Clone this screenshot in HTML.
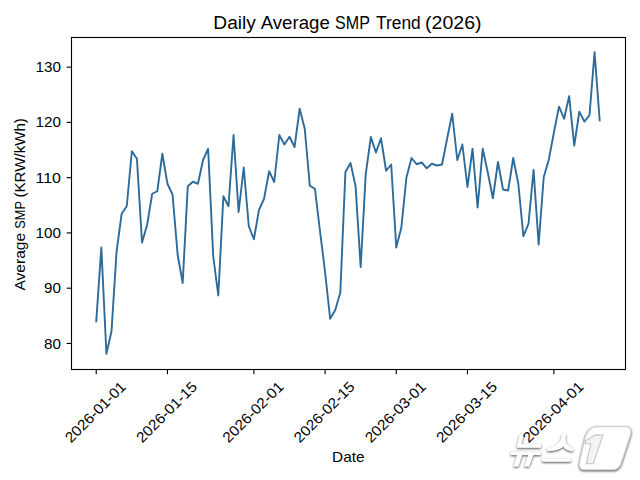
<!DOCTYPE html>
<html><head><meta charset="utf-8">
<style>
html,body{margin:0;padding:0;background:#fff;}
body{width:640px;height:480px;overflow:hidden;position:relative;}
svg{position:absolute;left:0;top:0;}
text{font-family:"Liberation Sans",sans-serif;fill:#000;}
</style></head><body>
<svg width="640" height="480" viewBox="0 0 640 480">
<rect x="0" y="0" width="640" height="480" fill="#fff"/>
<polyline points="96.25,321.25 101.33,247.50 106.42,353.75 111.50,331.25 116.59,251.25 121.67,213.75 126.76,206.25 131.84,151.25 136.93,158.75 142.01,242.50 147.10,225.00 152.19,193.75 157.27,191.25 162.36,153.75 167.44,183.75 172.53,194.50 177.61,254.50 182.69,283.00 187.78,186.25 192.87,181.75 197.95,183.75 203.03,160.00 208.12,148.75 213.20,256.00 218.29,295.50 223.38,196.25 228.46,206.25 233.54,135.00 238.63,212.00 243.72,167.50 248.80,226.25 253.88,239.25 258.97,210.00 264.06,198.75 269.14,171.25 274.23,182.00 279.31,135.00 284.39,144.50 289.48,136.75 294.56,147.00 299.65,108.75 304.74,128.75 309.82,185.75 314.90,188.75 319.99,231.00 325.07,272.00 330.16,318.75 335.25,310.00 340.33,292.50 345.41,172.00 350.50,163.00 355.58,186.25 360.67,267.00 365.75,174.00 370.84,137.00 375.93,152.50 381.01,138.25 386.09,170.75 391.18,164.50 396.26,247.50 401.35,227.50 406.44,177.50 411.52,158.00 416.61,164.25 421.69,162.50 426.77,168.25 431.86,163.75 436.94,165.50 442.03,164.50 447.12,138.75 452.20,113.75 457.29,160.00 462.37,144.50 467.45,187.00 472.54,148.75 477.62,207.50 482.71,148.75 487.80,172.50 492.88,198.25 497.96,162.00 503.05,189.50 508.13,190.50 513.22,158.00 518.31,183.75 523.39,236.25 528.48,223.75 533.56,170.00 538.64,244.50 543.73,177.00 548.82,159.70 553.90,132.50 558.99,106.60 564.07,118.75 569.15,96.25 574.24,145.60 579.33,111.60 584.41,121.60 589.50,115.00 594.58,52.20 599.66,120.30" fill="none" stroke="#2d6b9a" stroke-width="1.9" stroke-linejoin="round" stroke-linecap="square"/>
<rect x="71.5" y="37.5" width="554.0" height="332.0" fill="none" stroke="#000" stroke-width="1.11"/>
<g stroke="#000" stroke-width="1.11">
<line x1="66.64" y1="343.45" x2="71.5" y2="343.45"/>
<line x1="66.64" y1="288.19" x2="71.5" y2="288.19"/>
<line x1="66.64" y1="232.93" x2="71.5" y2="232.93"/>
<line x1="66.64" y1="177.67" x2="71.5" y2="177.67"/>
<line x1="66.64" y1="122.41" x2="71.5" y2="122.41"/>
<line x1="66.64" y1="67.15" x2="71.5" y2="67.15"/>
<line x1="96.25" y1="369.5" x2="96.25" y2="374.36"/>
<line x1="167.44" y1="369.5" x2="167.44" y2="374.36"/>
<line x1="253.88" y1="369.5" x2="253.88" y2="374.36"/>
<line x1="325.07" y1="369.5" x2="325.07" y2="374.36"/>
<line x1="396.26" y1="369.5" x2="396.26" y2="374.36"/>
<line x1="467.45" y1="369.5" x2="467.45" y2="374.36"/>
<line x1="553.90" y1="369.5" x2="553.90" y2="374.36"/>
</g>

<defs>
<filter id="sh" x="-20%" y="-20%" width="140%" height="140%">
<feGaussianBlur in="SourceAlpha" stdDeviation="1.3" result="b"/>
<feOffset in="b" dx="0.2" dy="0.6" result="o"/>
<feComponentTransfer in="o" result="c"><feFuncA type="linear" slope="1.4"/></feComponentTransfer>
<feFlood flood-color="#7a7a7a"/>
<feComposite in2="c" operator="in" result="s"/>
<feMerge><feMergeNode in="s"/><feMergeNode in="SourceGraphic"/></feMerge>
</filter>
</defs>
<g filter="url(#sh)" fill="#fff">
<path d="M519.8,434.8 L524,434.8 L521.3,444.5 L517.2,444.5 Z"/>
<path d="M517.2,443.9 L540.8,443.9 L540.8,447.7 L516.6,447.7 Z"/>
<path d="M510.7,451.6 L540.8,451.6 L540.8,455.1 L510.7,455.1 Z"/>
<path d="M517,455 L522.2,455 L518.5,466.4 L513.4,466.4 Z"/>
<path d="M528.2,455 L533.4,455 L529.2,466.4 L524.2,466.4 Z"/>
<path d="M562,434 L566,434 C565,440 565.5,445 573,448.5 L572.8,451.6 C567,450.5 564.5,448.5 563.2,446.5 C561,449 556,451 547.3,451.3 L547.2,448 C556,447 561,442 562,434 Z"/>
<path d="M542,458.5 L570.9,458.5 L570.9,461.7 L542,461.7 Z"/>
<path d="M598,426.6 L625.5,426.6 Q632,426.6 630.7,434 L621.5,462 Q619.5,469.8 612.5,469.8 L585,469.8 Q578.6,469.8 579.4,463 L584.3,441 Q586.8,426.6 598,426.6 Z" stroke="#d2d2d2" stroke-width="1.1"/>
<path d="M595,435.1 L602.9,435.1 L593.3,463.8 L586.3,463.8 L590.8,443.8 L585,443.8 L585.6,440.5 Z" fill="#f3f3f3" stroke="#c4c4c4" stroke-width="1.1"/>
</g>
<g font-size="14.6">
<text x="60.9" y="348.50" text-anchor="end" textLength="16.9" lengthAdjust="spacingAndGlyphs">80</text>
<text x="60.9" y="293.24" text-anchor="end" textLength="16.9" lengthAdjust="spacingAndGlyphs">90</text>
<text x="60.9" y="237.98" text-anchor="end" textLength="25.4" lengthAdjust="spacingAndGlyphs">100</text>
<text x="60.9" y="182.72" text-anchor="end" textLength="25.4" lengthAdjust="spacingAndGlyphs">110</text>
<text x="60.9" y="127.46" text-anchor="end" textLength="25.4" lengthAdjust="spacingAndGlyphs">120</text>
<text x="60.9" y="72.20" text-anchor="end" textLength="25.4" lengthAdjust="spacingAndGlyphs">130</text>
<text x="126.85" y="387.60" text-anchor="end" textLength="79" lengthAdjust="spacingAndGlyphs" transform="rotate(-45 126.85 387.60)">2026-01-01</text>
<text x="198.04" y="387.60" text-anchor="end" textLength="79" lengthAdjust="spacingAndGlyphs" transform="rotate(-45 198.04 387.60)">2026-01-15</text>
<text x="284.49" y="387.60" text-anchor="end" textLength="79" lengthAdjust="spacingAndGlyphs" transform="rotate(-45 284.49 387.60)">2026-02-01</text>
<text x="355.68" y="387.60" text-anchor="end" textLength="79" lengthAdjust="spacingAndGlyphs" transform="rotate(-45 355.68 387.60)">2026-02-15</text>
<text x="426.87" y="387.60" text-anchor="end" textLength="79" lengthAdjust="spacingAndGlyphs" transform="rotate(-45 426.87 387.60)">2026-03-01</text>
<text x="498.06" y="387.60" text-anchor="end" textLength="79" lengthAdjust="spacingAndGlyphs" transform="rotate(-45 498.06 387.60)">2026-03-15</text>
<text x="584.50" y="387.60" text-anchor="end" textLength="79" lengthAdjust="spacingAndGlyphs" transform="rotate(-45 584.50 387.60)">2026-04-01</text>

<text x="348.3" y="461.6" text-anchor="middle" textLength="32.5" lengthAdjust="spacingAndGlyphs">Date</text>
<text x="0" y="0" textLength="57.70" lengthAdjust="spacingAndGlyphs" transform="translate(25.2 290.60) rotate(-90)">Average</text>
<text x="0" y="0" textLength="27.60" lengthAdjust="spacingAndGlyphs" transform="translate(25.2 228.70) rotate(-90)">SMP</text>
<text x="0" y="0" textLength="79.35" lengthAdjust="spacingAndGlyphs" transform="translate(25.2 197.50) rotate(-90)">(KRW/kWh)</text>

</g>
<text x="213.30" y="28.6" font-size="17.6" textLength="42.60" lengthAdjust="spacingAndGlyphs">Daily</text>
<text x="260.70" y="28.6" font-size="17.6" textLength="69.10" lengthAdjust="spacingAndGlyphs">Average</text>
<text x="335.10" y="28.6" font-size="17.6" textLength="34.80" lengthAdjust="spacingAndGlyphs">SMP</text>
<text x="376.00" y="28.6" font-size="17.6" textLength="44.70" lengthAdjust="spacingAndGlyphs">Trend</text>
<text x="425.05" y="28.6" font-size="17.6" textLength="56.45" lengthAdjust="spacingAndGlyphs">(2026)</text>

</svg>
</body></html>
